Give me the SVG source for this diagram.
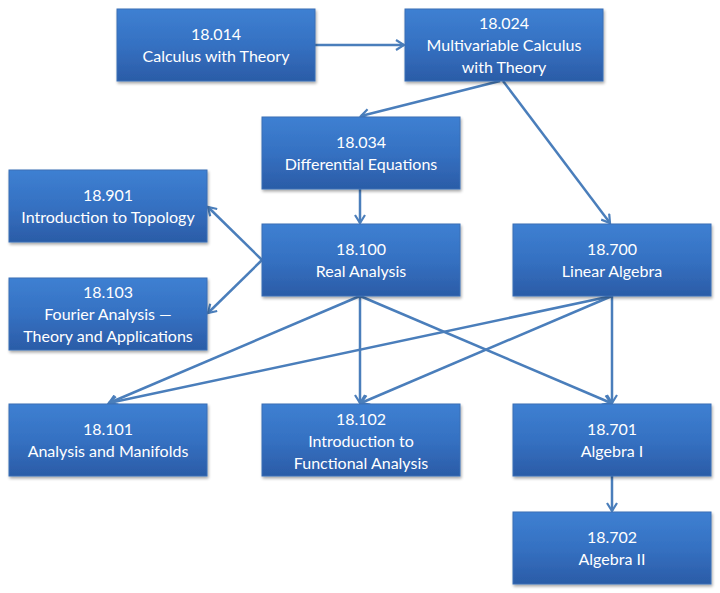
<svg xmlns="http://www.w3.org/2000/svg" width="720" height="593" viewBox="0 0 720 593">
<defs>
<linearGradient id="g" x1="0" y1="0" x2="0" y2="1">
<stop offset="0" stop-color="#3e80d2"/>
<stop offset="0.5" stop-color="#3571c2"/>
<stop offset="1" stop-color="#2b5ca7"/>
</linearGradient>
<filter id="sh" x="-10%" y="-10%" width="125%" height="130%">
<feGaussianBlur in="SourceAlpha" stdDeviation="1.5"/>
<feOffset dx="1" dy="2" result="b"/>
<feComponentTransfer><feFuncA type="linear" slope="0.35"/></feComponentTransfer>
<feMerge><feMergeNode/><feMergeNode in="SourceGraphic"/></feMerge>
</filter>
<marker id="arr" viewBox="0 0 12 12" refX="10" refY="6" markerWidth="12" markerHeight="12" markerUnits="userSpaceOnUse" orient="auto">
<path d="M2,1 L10,6 L2,11" fill="none" stroke="#4a7ebb" stroke-width="2.2" stroke-linejoin="miter"/>
</marker>
</defs>
<style>
.box{fill:url(#g);stroke:#3a6eb5;stroke-width:1;filter:url(#sh)}
.t{font-family:Lato,"Open Sans","Liberation Sans",sans-serif;font-size:16px;fill:#ffffff;text-anchor:middle}
.c{fill:none;stroke:#4a7ebb;stroke-width:2.5;marker-end:url(#arr)}
</style>
<rect width="720" height="593" fill="#ffffff"/>
<g id="connectors">
<line class="c" x1="315" y1="45" x2="404" y2="45"/>
<line class="c" x1="500" y1="81" x2="361" y2="116"/>
<line class="c" x1="503" y1="81" x2="610" y2="223"/>
<line class="c" x1="360" y1="189" x2="360" y2="223"/>
<line class="c" x1="262" y1="260" x2="208" y2="207"/>
<line class="c" x1="262" y1="260" x2="208" y2="313"/>
<line class="c" x1="360" y1="296" x2="109" y2="403"/>
<line class="c" x1="612" y1="296" x2="109" y2="403"/>
<line class="c" x1="360" y1="296" x2="360" y2="403"/>
<line class="c" x1="612" y1="296" x2="361" y2="403"/>
<line class="c" x1="360" y1="296" x2="611" y2="403"/>
<line class="c" x1="612" y1="296" x2="612" y2="403"/>
<line class="c" x1="612" y1="476" x2="612" y2="511"/>
</g>
<g id="n18014"><rect class="box" x="117" y="9" width="198" height="72"/><text class="t" x="216" y="40">18.014</text><text class="t" x="216" y="62">Calculus with Theory</text></g>
<g id="n18024"><rect class="box" x="405" y="9" width="198" height="72"/><text class="t" x="504" y="29">18.024</text><text class="t" x="504" y="51">Multivariable Calculus</text><text class="t" x="504" y="73">with Theory</text></g>
<g id="n18034"><rect class="box" x="262" y="117" width="198" height="72"/><text class="t" x="361" y="148">18.034</text><text class="t" x="361" y="170">Differential Equations</text></g>
<g id="n18901"><rect class="box" x="9" y="170" width="198" height="72"/><text class="t" x="108" y="201">18.901</text><text class="t" x="108" y="223">Introduction to Topology</text></g>
<g id="n18100"><rect class="box" x="262" y="224" width="198" height="72"/><text class="t" x="361" y="255">18.100</text><text class="t" x="361" y="277">Real Analysis</text></g>
<g id="n18700"><rect class="box" x="513" y="224" width="198" height="72"/><text class="t" x="612" y="255">18.700</text><text class="t" x="612" y="277">Linear Algebra</text></g>
<g id="n18103"><rect class="box" x="9" y="278" width="198" height="72"/><text class="t" x="108" y="298">18.103</text><text class="t" x="108" y="320">Fourier Analysis —</text><text class="t" x="108" y="342">Theory and Applications</text></g>
<g id="n18101"><rect class="box" x="9" y="404" width="198" height="72"/><text class="t" x="108" y="435">18.101</text><text class="t" x="108" y="457">Analysis and Manifolds</text></g>
<g id="n18102"><rect class="box" x="262" y="404" width="198" height="72"/><text class="t" x="361" y="425">18.102</text><text class="t" x="361" y="447">Introduction to</text><text class="t" x="361" y="469">Functional Analysis</text></g>
<g id="n18701"><rect class="box" x="513" y="404" width="198" height="72"/><text class="t" x="612" y="435">18.701</text><text class="t" x="612" y="457">Algebra I</text></g>
<g id="n18702"><rect class="box" x="513" y="512" width="198" height="72"/><text class="t" x="612" y="543">18.702</text><text class="t" x="612" y="565">Algebra II</text></g>
</svg>
